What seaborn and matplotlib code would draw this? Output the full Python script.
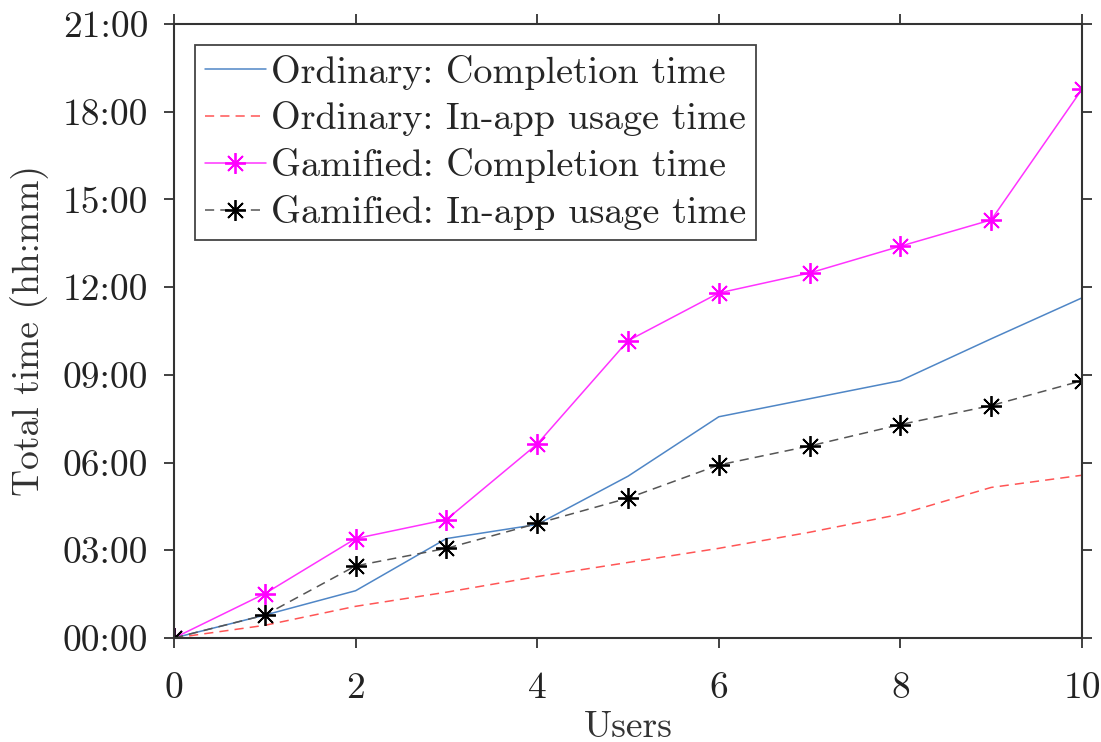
import matplotlib
matplotlib.use("Agg")
import matplotlib.pyplot as plt
import seaborn as sns
from matplotlib.ticker import FuncFormatter, MultipleLocator

# Data (minutes of total time) per number of users
users = [0, 1, 2, 3, 4, 5, 6, 7, 8, 9, 10]
ordinary_completion = [0, 47, 97, 204, 233, 332, 454, 491, 528, 614, 698]
ordinary_inapp = [0, 26, 65, 94, 126, 155, 184, 217, 254, 309, 334]
gamified_completion = [0, 91, 204, 243, 398, 610, 708, 749, 804, 858, 1126]
gamified_inapp = [0, 47, 148, 184, 235, 287, 355, 394, 438, 477, 528]

labels = ["Ordinary: Completion time", "Ordinary: In-app usage time",
          "Gamified: Completion time", "Gamified: In-app usage time"]
yticks_labels = ["00:00", "03:00", "06:00", "09:00", "12:00", "15:00", "18:00", "21:00"]

sns.set_style("ticks")
plt.rcParams['font.family'] = ['cmr10', 'DejaVu Serif']
plt.rcParams['axes.formatter.use_mathtext'] = True
plt.rcParams['mathtext.fontset'] = 'cm'

fig = plt.figure(figsize=(11.01, 7.42), dpi=100)
ax = fig.add_axes([174/1101, 1 - 638/742, (1082-174)/1101, (638-24)/742])

star = (8, 2, 0)
sns.lineplot(x=users, y=ordinary_completion, ax=ax, color="#4f86c6", lw=1.1,
             label=labels[0])
sns.lineplot(x=users, y=ordinary_inapp, ax=ax, color="#ff5555", lw=1.1,
             linestyle=(0, (6, 4)), label=labels[1])
sns.lineplot(x=users, y=gamified_completion, ax=ax, color="#ff33ff", lw=1.1,
             marker=star, markersize=15, markeredgewidth=1.3,
             markeredgecolor="#ff00ff", label=labels[2])
sns.lineplot(x=users, y=gamified_inapp, ax=ax, color="#555555", lw=1.1,
             linestyle=(0, (6, 4)), marker=star, markersize=15,
             markeredgewidth=1.3, markeredgecolor="black", label=labels[3])

ax.set_xlim(0, 10)
ax.set_ylim(0, 21 * 60)
ax.xaxis.set_major_locator(MultipleLocator(2))
ax.yaxis.set_major_locator(MultipleLocator(180))
ax.yaxis.set_major_formatter(FuncFormatter(
    lambda v, p: yticks_labels[int(round(v / 180))] if 0 <= round(v / 180) < len(yticks_labels) else ""))
ax.xaxis.set_major_formatter(FuncFormatter(lambda v, p: f"{int(round(v))}"))

ax.tick_params(direction="out", length=7.5, width=1.3, top=True, right=True,
               labelsize=27, colors="#333333")
ax.tick_params(axis="x", pad=17)
ax.tick_params(axis="y", pad=11)
for t in ax.get_xticklabels() + ax.get_yticklabels():
    t.set_color("#222222")
for s in ax.spines.values():
    s.set_visible(True)
    s.set_linewidth(1.5)
    s.set_color("#333333")

ax.set_xlabel("Users", fontsize=27, color="#333333", labelpad=4)
ax.set_ylabel("Total time (hh:mm)", fontsize=27, color="#333333", labelpad=10)

leg = ax.legend(loc="upper left", fontsize=27.5, frameon=True, fancybox=False,
                edgecolor="#444444", framealpha=1, handlelength=1.6,
                handletextpad=0.15, borderpad=0.25, labelspacing=0.31,
                borderaxespad=0.55)
leg.get_frame().set_linewidth(1.3)

fig.savefig("out.png", dpi=100)
